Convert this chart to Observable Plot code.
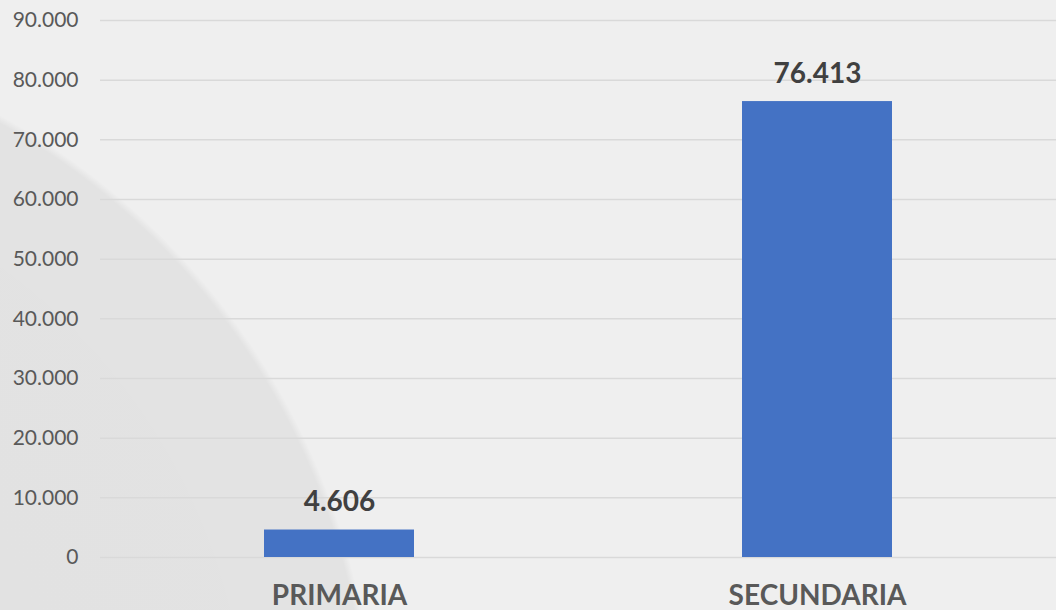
<!DOCTYPE html>
<html><head><meta charset="utf-8">
<script src="https://cdn.jsdelivr.net/npm/d3@7"></script>
<script src="https://cdn.jsdelivr.net/npm/@observablehq/plot@0.6"></script>
<style>
html,body{margin:0;padding:0;}
body{width:1056px;height:610px;overflow:hidden;
background:
 radial-gradient(circle 725px at -350px 750px, rgba(0,0,0,0.06) 0%, rgba(0,0,0,0.05) 99%, rgba(0,0,0,0) 100%),
 #efefef;}
#chart svg{display:block;background:transparent;}
</style></head>
<body><div id="chart"></div>
<script>
const categories = ["PRIMARIA", "SECUNDARIA"];
const values = [4606, 76413];
const yTicks = [0, 10000, 20000, 30000, 40000, 50000, 60000, 70000, 80000, 90000];
const data = categories.map((c, i) => ({cat: c, val: values[i]}));
const fmt = v => v === 0 ? "0" : d3.format(",")(v).replace(/,/g, ".");
const chart = Plot.plot({
  width: 1056, height: 610,
  marginTop: 20, marginBottom: 53, marginLeft: 100, marginRight: 0,
  style: {fontFamily: "Lato, 'Open Sans', sans-serif", background: "transparent"},
  x: {domain: categories, paddingInner: 0.686, paddingOuter: 0.343, label: null},
  y: {domain: [0, 90000], ticks: yTicks, label: null},
  marks: [
    Plot.ruleY(yTicks, {stroke: "#d9d9d9", strokeWidth: 1.5}),
    Plot.barY(data, {x: "cat", y: "val", fill: "#4472c4"}),
    Plot.text(data, {x: "cat", y: "val", text: d => fmt(d.val), dy: -28, fontSize: 28, fontWeight: "bold", fill: "#404040"}),
    Plot.axisY({ticks: yTicks, tickFormat: fmt, tickSize: 0, tickPadding: 22, fontSize: 21, color: "#595959", label: null}),
    Plot.axisX({tickSize: 0, tickPadding: 28, fontSize: 28, fontWeight: "bold", color: "#595959", label: null})
  ]
});
document.getElementById("chart").append(chart);
</script></body></html>
